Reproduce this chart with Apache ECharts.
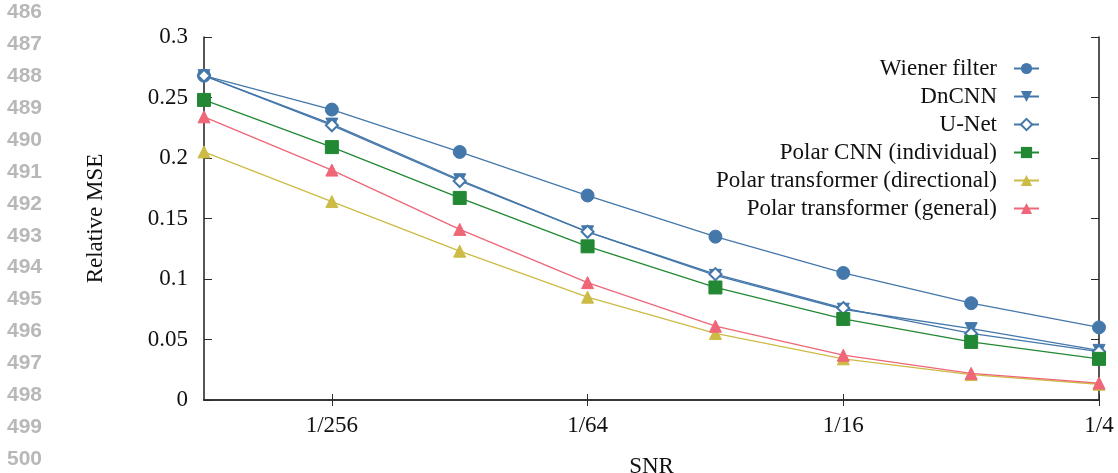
<!DOCTYPE html>
<html>
<head>
<meta charset="utf-8">
<script src="https://cdn.jsdelivr.net/npm/echarts@6/dist/echarts.min.js"></script>
<style>
  html, body { margin: 0; padding: 0; background: #fff; }
  #chart { width: 1118px; height: 473px; }
</style>
</head>
<body>
<div id="chart"></div>
<script>
// SNR levels (1/512 ... 1/4)
const snr = ['1/512', '1/256', '1/128', '1/64', '1/32', '1/16', '1/8', '1/4']
const wiener = [0.268, 0.240, 0.205, 0.169, 0.135, 0.105, 0.080, 0.060]
const dncnn = [0.268, 0.228, 0.182, 0.139, 0.103, 0.075, 0.059, 0.041]
const unet = [0.268, 0.227, 0.181, 0.139, 0.104, 0.076, 0.055, 0.040]
const polarCnn = [0.248, 0.209, 0.167, 0.127, 0.093, 0.067, 0.048, 0.034]
const polarDir = [0.205, 0.164, 0.123, 0.085, 0.055, 0.034, 0.021, 0.013]
const polarGen = [0.234, 0.190, 0.141, 0.097, 0.061, 0.037, 0.022, 0.014]
const yTicks = ['0', '0.05', '0.1', '0.15', '0.2', '0.25', '0.3']
// paper line numbers printed in the margin
const lineNumbers = [486, 487, 488, 489, 490, 491, 492, 493, 494, 495, 496, 497, 498, 499, 500]

const serif = 'Liberation Serif'
const axisColor = '#2b2b2b'
const labelled = (i) => i % 2 === 1

const myChart = echarts.init(document.getElementById('chart'))

const mkLine = (name, data, color, symbol, size, extra) => Object.assign({
    name: name,
    type: 'line',
    data: data,
    symbol: symbol,
    symbolSize: size,
    lineStyle: { color: color, width: 1.3 },
    itemStyle: { color: color, borderColor: color },
    emphasis: { disabled: true },
    z: 3
}, extra || {})

const option = {
    animation: false,
    textStyle: { fontFamily: serif },
    grid: { left: 204, right: 19, top: 37, bottom: 73, containLabel: false, outerBoundsMode: 'none' },
    legend: {
        orient: 'vertical',
        align: 'right',
        right: 78,
        top: 57,
        padding: 0,
        itemWidth: 25,
        itemHeight: 14,
        itemGap: 5,
        textStyle: { fontFamily: serif, fontSize: 23, color: '#111', lineHeight: 22, padding: [0, 12, 0, 0] },
        data: ['Wiener filter', 'DnCNN', 'U-Net', 'Polar CNN (individual)',
            'Polar transformer (directional)', 'Polar transformer (general)']
    },
    xAxis: [{
        type: 'category',
        data: snr,
        boundaryGap: false,
        name: 'SNR',
        nameLocation: 'middle',
        nameGap: 55,
        nameTextStyle: { fontFamily: serif, fontSize: 23, color: '#111' },
        axisLine: { lineStyle: { color: axisColor, width: 1.6 } },
        axisTick: { inside: true, length: 6, interval: labelled, lineStyle: { color: axisColor } },
        axisLabel: { interval: labelled, margin: 14, fontFamily: serif, fontSize: 23, color: '#111' },
        splitLine: { show: false }
    }, {
        type: 'category',
        data: snr,
        boundaryGap: false,
        position: 'top',
        axisLine: { lineStyle: { color: axisColor, width: 1.6 } },
        axisTick: { inside: true, length: 6, interval: labelled, lineStyle: { color: axisColor } },
        axisLabel: { show: false }
    }],
    yAxis: [{
        type: 'value',
        min: 0,
        max: 0.3,
        interval: 0.05,
        name: 'Relative MSE',
        nameLocation: 'middle',
        nameGap: 97,
        nameTextStyle: { fontFamily: serif, fontSize: 23, color: '#111' },
        axisLine: { show: true, lineStyle: { color: axisColor, width: 1.6 } },
        axisTick: { show: true, inside: true, length: 8, lineStyle: { color: axisColor } },
        axisLabel: {
            margin: 16, fontFamily: serif, fontSize: 23, color: '#111',
            formatter: (v) => yTicks[Math.round(v / 0.05)]
        },
        splitLine: { show: false }
    }, {
        type: 'value',
        min: 0,
        max: 0.3,
        interval: 0.05,
        position: 'right',
        axisLine: { show: true, lineStyle: { color: axisColor, width: 1.6 } },
        axisTick: { show: true, inside: true, length: 8, lineStyle: { color: axisColor } },
        axisLabel: { show: false },
        splitLine: { show: false }
    }],
    graphic: lineNumbers.map((n, i) => ({
        type: 'text',
        left: 7,
        top: 2 + i * 31.9,
        style: { text: String(n), fontFamily: 'Liberation Sans', fontWeight: 'bold', fontSize: 21, fill: '#b8b8b8' }
    })),
    series: [
        mkLine('Wiener filter', wiener, '#4477aa', 'circle', 13),
        mkLine('DnCNN', dncnn, '#4477aa', 'triangle', 12, { symbolRotate: 180 }),
        mkLine('U-Net', unet, '#4477aa', 'emptyDiamond', 12, { itemStyle: { color: '#4477aa', borderWidth: 1.3 } }),
        mkLine('Polar CNN (individual)', polarCnn, '#228833', 'rect', 13),
        mkLine('Polar transformer (directional)', polarDir, '#ccbb44', 'triangle', 12),
        mkLine('Polar transformer (general)', polarGen, '#ee6677', 'triangle', 12)
    ]
}

myChart.setOption(option)
</script>
</body>
</html>
